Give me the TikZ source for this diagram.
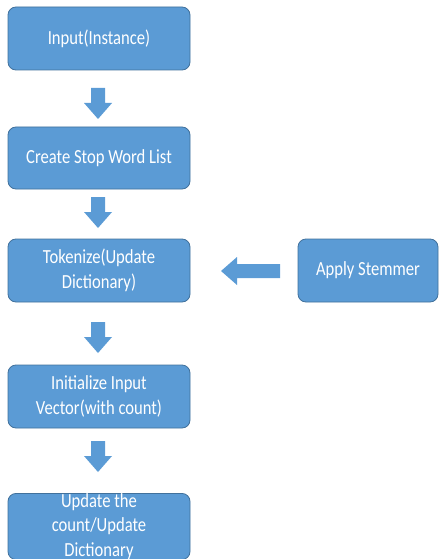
\documentclass[tikz,border=0pt]{standalone}
\usepackage{fontspec}
\setmainfont{Carlito}[FakeStretch=0.83]
\definecolor{boxfill}{HTML}{5B9BD5}
\definecolor{boxline}{HTML}{41719C}
\begin{document}
\begin{tikzpicture}[x=1pt,y=-1pt,
  flowbox/.style={draw=boxline, line width=0.8pt, fill=boxfill, rounded corners=8pt,
    minimum width=182pt, minimum height=63pt, inner sep=0pt, align=center,
    text=white, font=\fontsize{20}{24.5}\selectfont},
  arrowfill/.style={fill=boxfill},
  downarrow/.pic={\fill[arrowfill] (-7,0) -- (7,0) -- (7,15) -- (14,15) -- (0,31) -- (-14,15) -- (-7,15) -- cycle;},
  leftarrow/.pic={\fill[arrowfill] (0,-7) -- (0,7) -- (-43,7) -- (-43,14) -- (-59,0) -- (-43,-14) -- (-43,-7) -- cycle;}
]
\useasboundingbox (0,0) rectangle (439,559);
\clip (0,0) rectangle (439,559);
\node[flowbox] (b1) at (99,38.5) {Input(Instance)};
\node[flowbox, minimum height=62pt] (b2) at (99,158) {Create Stop Word List};
\node[flowbox] (b3) at (99,270.5) {Tokenize(Update\\Dictionary)};
\node[flowbox, minimum width=140pt] (st) at (368,270.5) {Apply Stemmer};
\node[flowbox] (b4) at (99,396.5) {Initialize Input\\Vector(with count)};
\node[flowbox] (b5) at (99,526.5) {Update the\\count/Update\\Dictionary};
\pic at (98,88) {downarrow};
\pic at (98,197) {downarrow};
\pic at (98,322) {downarrow};
\pic at (98,441) {downarrow};
\pic at (280,271) {leftarrow};
\end{tikzpicture}
\end{document}
